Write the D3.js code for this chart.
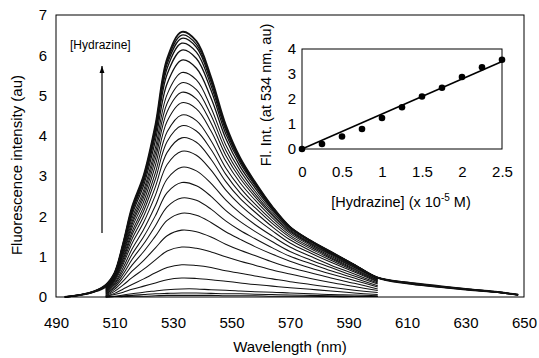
<!DOCTYPE html>
<html>
<head>
<meta charset="utf-8">
<script src="https://cdn.jsdelivr.net/npm/d3@7"></script>
<style>
  html, body { margin: 0; padding: 0; background: #fff; }
  svg { display: block; }
  text { font-family: "Liberation Sans", Arial, sans-serif; fill: #000; }
</style>
</head>
<body>
<svg id="chart" width="539" height="358"></svg>
<script>
// ---------- data ----------
const wavelengths = [507,510,513,516,520,524,528,533,538,543,548,553,558,564,570,577,584,592,600];
const leftTailWl = [493,498,503];
const rightTailWl = [610,620,630,640,648];

const spectra = [
  [0,0.01,0.01,0.02,0.02,0.03,0.04,0.04,0.04,0.04,0.03,0.03,0.03,0.02,0.02,0.02,0.01,0.01,0.01],
  [0,0.01,0.03,0.04,0.06,0.08,0.09,0.1,0.1,0.09,0.08,0.08,0.07,0.06,0.05,0.04,0.03,0.02,0.01],
  [0,0.02,0.05,0.08,0.12,0.15,0.18,0.2,0.2,0.18,0.17,0.15,0.13,0.12,0.1,0.08,0.06,0.05,0.03],
  [0.01,0.06,0.12,0.19,0.27,0.35,0.43,0.47,0.46,0.43,0.39,0.35,0.31,0.27,0.23,0.19,0.15,0.1,0.06],
  [0.02,0.09,0.2,0.31,0.45,0.6,0.73,0.8,0.78,0.73,0.65,0.59,0.52,0.45,0.38,0.31,0.24,0.17,0.11],
  [0.03,0.14,0.3,0.48,0.69,0.92,1.14,1.24,1.21,1.12,1.0,0.89,0.79,0.67,0.57,0.46,0.36,0.26,0.16],
  [0.04,0.19,0.4,0.64,0.91,1.22,1.52,1.66,1.62,1.49,1.31,1.16,1.03,0.87,0.73,0.6,0.47,0.34,0.2],
  [0.06,0.23,0.49,0.79,1.13,1.51,1.9,2.08,2.03,1.85,1.62,1.43,1.25,1.06,0.89,0.72,0.57,0.41,0.25],
  [0.07,0.27,0.57,0.93,1.32,1.77,2.24,2.46,2.4,2.18,1.89,1.65,1.45,1.22,1.01,0.83,0.65,0.47,0.28],
  [0.09,0.31,0.65,1.06,1.5,2.02,2.59,2.84,2.76,2.5,2.15,1.87,1.63,1.37,1.13,0.92,0.73,0.52,0.32],
  [0.11,0.34,0.73,1.19,1.68,2.27,2.93,3.22,3.13,2.82,2.41,2.08,1.8,1.51,1.24,1.01,0.79,0.57,0.35],
  [0.12,0.38,0.82,1.33,1.86,2.53,3.29,3.62,3.52,3.15,2.66,2.28,1.97,1.64,1.34,1.09,0.86,0.62,0.37],
  [0.14,0.41,0.88,1.44,2.01,2.74,3.59,3.95,3.84,3.42,2.87,2.44,2.11,1.74,1.42,1.15,0.91,0.65,0.39],
  [0.16,0.43,0.94,1.54,2.14,2.93,3.86,4.25,4.12,3.66,3.05,2.58,2.22,1.82,1.48,1.2,0.95,0.68,0.41],
  [0.17,0.45,0.99,1.62,2.25,3.09,4.1,4.52,4.38,3.88,3.21,2.71,2.31,1.89,1.53,1.24,0.98,0.7,0.42],
  [0.19,0.48,1.05,1.72,2.37,3.27,4.36,4.82,4.67,4.12,3.38,2.83,2.41,1.96,1.58,1.28,1.01,0.73,0.44],
  [0.2,0.5,1.09,1.8,2.48,3.43,4.6,5.08,4.92,4.32,3.52,2.94,2.49,2.02,1.62,1.31,1.04,0.74,0.45],
  [0.22,0.51,1.14,1.87,2.57,3.57,4.81,5.32,5.15,4.51,3.65,3.03,2.56,2.06,1.65,1.33,1.06,0.76,0.46],
  [0.23,0.53,1.18,1.95,2.66,3.71,5.03,5.57,5.39,4.7,3.78,3.13,2.63,2.11,1.68,1.35,1.08,0.77,0.46],
  [0.25,0.55,1.23,2.04,2.78,3.89,5.3,5.88,5.68,4.94,3.94,3.23,2.71,2.16,1.71,1.38,1.09,0.79,0.47],
  [0.27,0.57,1.28,2.11,2.87,4.03,5.53,6.13,5.92,5.13,4.06,3.32,2.77,2.19,1.72,1.39,1.11,0.79,0.48],
  [0.28,0.58,1.3,2.16,2.93,4.12,5.68,6.3,6.08,5.25,4.15,3.37,2.81,2.21,1.73,1.39,1.11,0.8,0.48],
  [0.29,0.59,1.32,2.19,2.97,4.19,5.78,6.42,6.2,5.34,4.2,3.41,2.83,2.22,1.74,1.4,1.11,0.8,0.48],
  [0.3,0.59,1.34,2.21,3.0,4.23,5.85,6.5,6.27,5.4,4.24,3.43,2.85,2.23,1.74,1.4,1.12,0.8,0.48],
  [0.3,0.6,1.35,2.24,3.03,4.28,5.92,6.58,6.35,5.46,4.28,3.45,2.86,2.24,1.74,1.4,1.12,0.8,0.48]
];
// full-range curves (the highest ones) carry extra tails
const tailFirstCurve = 19;
const leftTails = [
  [0,0.04,0.12],[0,0.05,0.13],[0,0.05,0.13],[0,0.05,0.14],[0,0.05,0.14],[0,0.05,0.14]
];
const rightTails = [
  [0.33,0.25,0.18,0.12,0.05],[0.34,0.26,0.19,0.12,0.05],[0.35,0.26,0.19,0.13,0.05],
  [0.35,0.27,0.2,0.13,0.06],[0.36,0.27,0.2,0.13,0.06],[0.36,0.28,0.2,0.13,0.06]
];

const xTicks = [490,510,530,550,570,590,610,630,650];
const yTicks = [0,1,2,3,4,5,6,7];

// inset
const hydrazine = [0,0.25,0.5,0.75,1.0,1.25,1.5,1.75,2.0,2.25,2.5];
const intensity534 = [0,0.2,0.5,0.8,1.24,1.67,2.1,2.45,2.88,3.27,3.57];
const fitX = [0,2.5];
const fitY = [0,3.5];
const insetXTicks = [0,0.5,1,1.5,2,2.5];
const insetYTicks = [0,1,2,3,4];

// ---------- layout ----------
const svg = d3.select("#chart");
const M = {left:56, right:524, top:15, bottom:297};
const x = d3.scaleLinear().domain([490,650]).range([M.left, M.right]);
const y = d3.scaleLinear().domain([0,7]).range([M.bottom, M.top]);

const I = {left:302, right:502, top:49, bottom:149};
const ix = d3.scaleLinear().domain([0,2.5]).range([I.left, I.right]);
const iy = d3.scaleLinear().domain([0,4]).range([I.bottom, I.top]);

// spectra
const line = d3.line().x(d => x(d[0])).y(d => y(d[1])).curve(d3.curveCatmullRom.alpha(0.5));
const g = svg.append("g");
spectra.forEach((vals, i) => {
  let pts = wavelengths.map((w, k) => [w, vals[k]]);
  const full = i >= tailFirstCurve;
  if (full) {
    const j = i - tailFirstCurve;
    pts = leftTailWl.map((w, k) => [w, leftTails[j][k]])
      .concat(pts)
      .concat(rightTailWl.map((w, k) => [w, rightTails[j][k]]));
  }
  g.append("path").attr("d", line(pts))
    .attr("fill", "none").attr("stroke", "#111")
    .attr("stroke-width", i === spectra.length - 1 ? 1.8 : (full ? 1.3 : 1.05));
});

// frame
svg.append("rect").attr("x", M.left).attr("y", M.top)
  .attr("width", M.right - M.left).attr("height", M.bottom - M.top)
  .attr("fill", "none").attr("stroke", "#000").attr("stroke-width", 1);

// axes (labels only)
const xAxis = svg.append("g").attr("transform", `translate(0,${M.bottom})`)
  .call(d3.axisBottom(x).tickValues(xTicks).tickSize(0).tickPadding(25).tickFormat(d3.format("d")));
const yAxis = svg.append("g").attr("transform", `translate(${M.left},0)`)
  .call(d3.axisLeft(y).tickValues(yTicks).tickSize(0).tickPadding(9).tickFormat(d3.format("d")));
[xAxis, yAxis].forEach(a => {
  a.select(".domain").remove();
  a.selectAll("text").style("font-size", "15px").style("font-family", "'Liberation Sans', Arial, sans-serif").attr("fill", "#000");
});
xAxis.selectAll("text").attr("dy", null).attr("y", 31);

svg.append("text").attr("x", 290).attr("y", 352).attr("text-anchor", "middle")
  .style("font-size", "15px").text("Wavelength (nm)");
svg.append("text").attr("transform", "translate(22,165) rotate(-90)").attr("text-anchor", "middle")
  .style("font-size", "15px").text("Fluorescence intensity (au)");

// arrow + label
svg.append("defs").append("marker").attr("id", "ah").attr("viewBox", "0 0 10 10")
  .attr("refX", 10).attr("refY", 5).attr("markerWidth", 6).attr("markerHeight", 6)
  .attr("orient", "auto").append("path").attr("d", "M0,1.5 L10,5 L0,8.5 Z").attr("fill", "#000");
svg.append("line").attr("x1", 102).attr("x2", 102).attr("y1", 233).attr("y2", 66)
  .attr("stroke", "#000").attr("stroke-width", 1.2).attr("marker-end", "url(#ah)");
svg.append("text").attr("x", 70).attr("y", 49).style("font-size", "12px").text("[Hydrazine]");

// inset
svg.append("rect").attr("x", I.left).attr("y", I.top)
  .attr("width", I.right - I.left).attr("height", I.bottom - I.top)
  .attr("fill", "#fff").attr("stroke", "#000").attr("stroke-width", 1);
const fitLine = d3.line().x(d => ix(d[0])).y(d => iy(d[1]));
svg.append("path").attr("d", fitLine(fitX.map((v, k) => [v, fitY[k]])))
  .attr("fill", "none").attr("stroke", "#000").attr("stroke-width", 1.6);
svg.append("g").selectAll("circle").data(hydrazine.map((v, k) => [v, intensity534[k]]))
  .join("circle").attr("cx", d => ix(d[0])).attr("cy", d => iy(d[1])).attr("r", 3.3).attr("fill", "#000");

const ixAxis = svg.append("g").attr("transform", `translate(0,${I.bottom})`)
  .call(d3.axisBottom(ix).tickValues(insetXTicks).tickSize(0).tickPadding(12).tickFormat(d => String(d)));
const iyAxis = svg.append("g").attr("transform", `translate(${I.left},0)`)
  .call(d3.axisLeft(iy).tickValues(insetYTicks).tickSize(0).tickPadding(6).tickFormat(d3.format("d")));
[ixAxis, iyAxis].forEach(a => {
  a.select(".domain").remove();
  a.selectAll("text").style("font-size", "15px").style("font-family", "'Liberation Sans', Arial, sans-serif").attr("fill", "#000");
});
ixAxis.selectAll("text").attr("dy", null).attr("y", 28);

const ixt = svg.append("text").attr("x", 401).attr("y", 207).attr("text-anchor", "middle").style("font-size", "14.5px");
ixt.append("tspan").text("[Hydrazine] (x 10");
ixt.append("tspan").attr("dy", -6).style("font-size", "10px").text("-5");
ixt.append("tspan").attr("dy", 6).text(" M)");
svg.append("text").attr("transform", "translate(271,95) rotate(-90)").attr("text-anchor", "middle")
  .style("font-size", "14.5px").text("Fl. Int. (at 534 nm, au)");
</script>
</body>
</html>
